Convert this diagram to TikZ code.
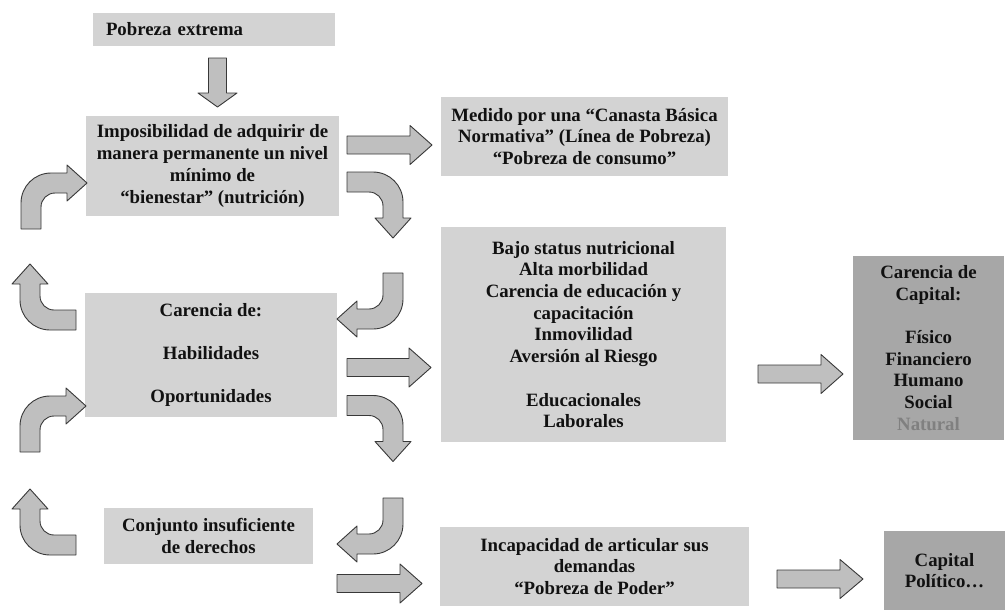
\documentclass[tikz,border=0pt]{standalone}
\usepackage{fontspec}
\setmainfont{Liberation Serif}
\usepackage{xcolor}
\definecolor{boxgray}{HTML}{D3D3D3}
\definecolor{capgray}{HTML}{A7A7A7}
\definecolor{arrowgray}{HTML}{BFBFBF}
\definecolor{edgegray}{HTML}{383838}
\definecolor{inkgray}{HTML}{111111}

\begin{document}
\begin{tikzpicture}[x=1pt,y=-1pt,
	box/.style={fill=boxgray,inner sep=0pt,align=center,text=inkgray,font=\fontsize{18.8}{21.7}\selectfont\bfseries},
	capbox/.style={box,fill=capgray},
	arrowshape/.style={fill=arrowgray,draw=edgegray,line width=0.9pt,line join=round},
	pics/blockarrow/.style 2 args={code={
		\draw[arrowshape] (0,-9) -- ({#1-#2},-9) -- ({#1-#2},-19.5) -- (#1,0) -- ({#1-#2},19.5) -- ({#1-#2},9) -- (0,9) -- cycle;}},
	pics/bentarrow/.style={code={
		\draw[arrowshape] (0,-10) -- (26,-10) .. controls (42.6,-10) and (56,3.4) .. (56,20) -- (56,36) -- (64,36) -- (46,56) -- (28,36) -- (36,36) -- (36,24) .. controls (36,16.3) and (29.7,10) .. (22,10) -- (0,10) -- cycle;}}]
	\useasboundingbox (0,0) rectangle (1006,613);

	\node[box,minimum width=242pt,minimum height=33pt,text width=216pt,align=left] (pobreza) at (214,29.5) {Pobreza extrema};
	\node[box,minimum width=253pt,minimum height=100pt] (bienestar) at (212.5,166) {Imposibilidad de adquirir de\\manera permanente un nivel\\mínimo de\\“bienestar” (nutrición)};
	\node[box,minimum width=287pt,minimum height=79pt] (canasta) at (584.5,136.5) {Medido por una “Canasta Básica\\Normativa” (Línea de Pobreza)\\“Pobreza de consumo”};
	\node[box,minimum width=285pt,minimum height=215pt] (efectos) at (583.5,334.5) {Bajo status nutricional\\Alta morbilidad\\Carencia de educación y\\capacitación\\Inmovilidad\\Aversión al Riesgo\\[21.7pt]Educacionales\\Laborales};
	\node[box,minimum width=252pt,minimum height=124pt] (carencia) at (211,355) {Carencia de:\\[21.7pt]Habilidades\\[21.7pt]Oportunidades};
	\node[box,minimum width=209pt,minimum height=56pt] (derechos) at (208.5,536) {Conjunto insuficiente\\de derechos};
	\node[box,minimum width=309pt,minimum height=79pt] (poder) at (594.5,566.5) {Incapacidad de articular sus\\demandas\\“Pobreza de Poder”};
	\node[capbox,minimum width=151pt,minimum height=184pt] (capital) at (928.5,348) {Carencia de\\Capital:\\[21.7pt]Físico\\Financiero\\Humano\\Social\\\textcolor{gray}{Natural}};
	\node[capbox,minimum width=121pt,minimum height=79pt] (politico) at (944.5,570.5) {Capital\\Político…};

	% straight arrows
	\path pic[rotate=-90] at (217.5,58) {blockarrow={49}{14}};
	\path pic at (347,145) {blockarrow={85}{22}};
	\path pic at (347,367.5) {blockarrow={84}{22}};
	\path pic at (758,374) {blockarrow={85}{22}};
	\path pic at (337,583.5) {blockarrow={85}{22}};
	\path pic at (777,579) {blockarrow={86}{23}};

	% bent arrows
	\path pic at (347,182) {bentarrow};
	\path pic at (347,405.5) {bentarrow};
	\path pic[rotate=-90] at (393,273) {bentarrow};
	\path pic[rotate=-90] at (393,498) {bentarrow};
	\path pic[rotate=180] at (76,320) {bentarrow};
	\path pic[rotate=180] at (76,545) {bentarrow};
	\path pic[rotate=90] at (31,229) {bentarrow};
	\path pic[rotate=90] at (30,452) {bentarrow};
\end{tikzpicture}
\end{document}
